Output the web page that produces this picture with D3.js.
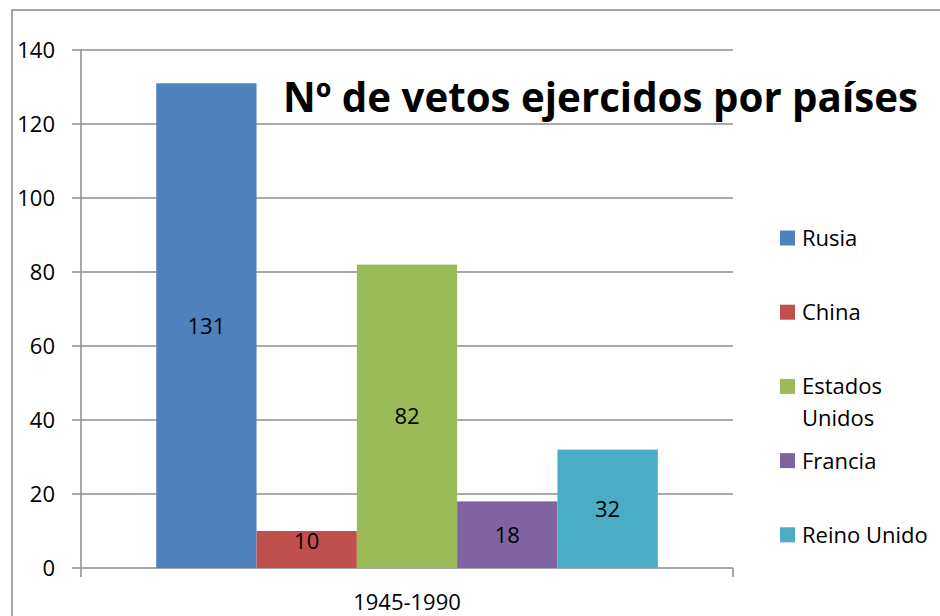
<!DOCTYPE html>
<html>
<head>
<meta charset="utf-8">
<script src="https://cdn.jsdelivr.net/npm/d3@7"></script>
<style>
  body { margin: 0; background: #fff; }
  text { font-family: "Open Sans", sans-serif; fill: #000; }
</style>
</head>
<body>
<div id="chart"></div>
<script>
// data
var paises = ["Rusia", "China", "Estados Unidos", "Francia", "Reino Unido"];
var vetos = [131, 10, 82, 18, 32];
var colores = ["#4F81BD", "#C0504D", "#9BBB59", "#8064A2", "#4BACC6"];
var periodo = ["1945-1990"];
var yTicks = [0, 20, 40, 60, 80, 100, 120, 140];
var titulo = "Nº de vetos ejercidos por países";

(function() {
var width = 940, height = 616;
var left = 81, right = 733, plotTop = 50, bottom = 568;

var svg = d3.select("#chart").append("svg")
    .attr("width", width)
    .attr("height", height);

// outer frame (runs off the right and bottom edge)
svg.append("rect")
    .attr("x", 12).attr("y", 10)
    .attr("width", 1000).attr("height", 700)
    .style("fill", "none")
    .style("stroke", "#888")
    .style("stroke-width", 1.5);

var y = d3.scaleLinear().domain([0, 140]).range([bottom, plotTop]);
var x0 = d3.scaleBand().domain(periodo).range([left, right]).paddingInner(0).paddingOuter(0.15);
var x1 = d3.scaleBand().domain(paises).range([0, x0.bandwidth()]);

// gridlines
svg.append("g")
    .selectAll("line")
    .data(yTicks)
    .enter()
    .append("line")
    .attr("x1", left - 9)
    .attr("x2", right)
    .attr("y1", function(d) { return y(d); })
    .attr("y2", function(d) { return y(d); })
    .style("stroke", "#8c8c8c")
    .style("stroke-width", 1.5);

// y axis line + end tick
svg.append("line")
    .attr("x1", left).attr("x2", left)
    .attr("y1", plotTop).attr("y2", bottom + 9)
    .style("stroke", "#8c8c8c").style("stroke-width", 1.5);
svg.append("line")
    .attr("x1", right).attr("x2", right)
    .attr("y1", bottom).attr("y2", bottom + 9)
    .style("stroke", "#8c8c8c").style("stroke-width", 1.5);

svg.append("g")
    .selectAll("text")
    .data(yTicks)
    .enter()
    .append("text")
    .attr("x", 55)
    .attr("y", function(d) { return y(d); })
    .attr("dy", "0.36em")
    .attr("text-anchor", "end")
    .style("font-size", "22px")
    .text(function(d) { return d; });

// bars
var g = svg.append("g");
paises.forEach(function(p, i) {
    var bx = x0(periodo[0]) + x1(p);
    g.append("rect")
        .attr("x", bx)
        .attr("y", y(vetos[i]))
        .attr("width", x1.bandwidth())
        .attr("height", y(0) - y(vetos[i]))
        .style("fill", colores[i]);
    var cy = Math.min((y(vetos[i]) + y(0)) / 2, y(0) - 27);
    g.append("text")
        .attr("x", bx + x1.bandwidth() / 2)
        .attr("y", cy)
        .attr("dy", "0.36em")
        .attr("text-anchor", "middle")
        .style("font-size", "22px")
        .text(vetos[i]);
});

// category label
svg.append("text")
    .attr("x", x0(periodo[0]) + x0.bandwidth() / 2)
    .attr("y", 610)
    .attr("text-anchor", "middle")
    .style("font-size", "22px")
    .text(periodo[0]);

// title, sized to span the same width as in the picture
var t = svg.append("text")
    .attr("x", 283)
    .attr("y", 112)
    .style("font-size", "40px")
    .style("font-weight", "bold")
    .text(titulo);
var w = t.node().getComputedTextLength();
t.style("font-size", (40 * 635 / w) + "px");

// legend
var legend = svg.append("g").attr("transform", "translate(780,0)");
paises.forEach(function(p, i) {
    var ly = 238 + i * 74.2;
    legend.append("rect")
        .attr("x", 0).attr("y", ly - 7.5)
        .attr("width", 15).attr("height", 15)
        .style("fill", colores[i]);
    var words = p === "Estados Unidos" ? ["Estados", "Unidos"] : [p];
    var txt = legend.append("text")
        .attr("x", 22)
        .attr("y", ly + 8)
        .style("font-size", "22px");
    words.forEach(function(wd, j) {
        txt.append("tspan")
            .attr("x", 22)
            .attr("dy", j === 0 ? 0 : 32)
            .text(wd);
    });
});
})();
</script>
</body>
</html>
